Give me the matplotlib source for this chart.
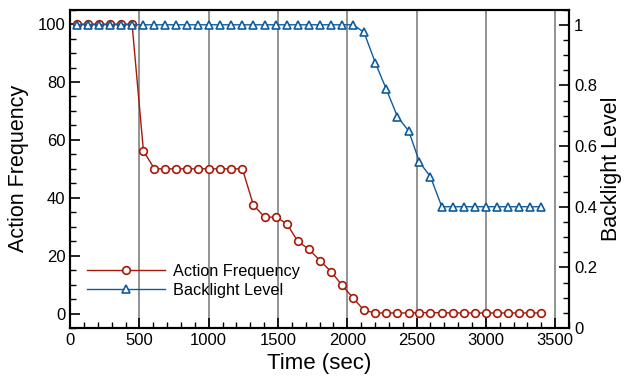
import numpy as np
import matplotlib
matplotlib.use('Agg')
import matplotlib.pyplot as plt
from matplotlib.ticker import MultipleLocator, FuncFormatter

plt.rcParams['font.family'] = ['Liberation Sans', 'DejaVu Sans']

# sample times (sec)
times = [48, 128, 209, 289, 368, 447, 529, 608, 688, 767, 847, 926, 1005, 1085,
         1164, 1243, 1323, 1405, 1485, 1563, 1643, 1722, 1804, 1885, 1963, 2042,
         2121, 2203, 2282, 2362, 2444, 2521, 2600, 2682, 2761, 2841, 2920, 2999,
         3079, 3160, 3240, 3319, 3398]

action_freq = [100, 100, 100, 100, 100, 100, 56.2, 50, 50, 50, 50, 50, 50, 50,
               50, 50, 37.4, 33.3, 33.3, 31.1, 24.9, 22.3, 18.2, 14.4, 9.7, 5.4,
               1.1, 0.2, 0.2, 0.2, 0.2, 0.3, 0.3, 0.3, 0.2, 0.2, 0.2, 0.2,
               0.2, 0.2, 0.2, 0.2, 0.2]

backlight = [1, 1, 1, 1, 1, 1, 1, 1, 1, 1, 1, 1, 1, 1,
             1, 1, 1, 1, 1, 1, 1, 1, 1, 1, 1, 1,
             0.975, 0.874, 0.787, 0.697, 0.649, 0.547, 0.499, 0.4, 0.4, 0.4, 0.4, 0.4,
             0.4, 0.4, 0.4, 0.4, 0.4]

grid_x = [500, 1000, 1500, 2000, 2500, 3000, 3500]

red = '#A81808'
blue = '#0E5C9E'

fig = plt.figure(figsize=(6.26, 3.85), dpi=100)
ax = fig.add_axes([0.112, 0.148, 0.797, 0.827])
ax2 = ax.twinx()

for gx in grid_x:
    ax.axvline(gx, color='#8a8a8a', lw=1.3, zorder=0)

l1, = ax.plot(times, action_freq, color=red, lw=1.0, marker='o', ms=5.5,
              mfc='white', mec=red, mew=1.2, label='Action Frequency')
l2, = ax2.plot(times, backlight, color=blue, lw=1.0, marker='^', ms=5.8,
               mfc='white', mec=blue, mew=1.2, label='Backlight Level')

ax.set_xlim(0, 3600)
ax.set_ylim(-5, 105)
ax2.set_ylim(0, 1.05)

ax.xaxis.set_major_locator(MultipleLocator(500))
ax.xaxis.set_minor_locator(MultipleLocator(100))
ax.yaxis.set_major_locator(MultipleLocator(20))
ax.yaxis.set_minor_locator(MultipleLocator(5))
ax2.yaxis.set_major_locator(MultipleLocator(0.2))
ax2.yaxis.set_minor_locator(MultipleLocator(0.05))
ax2.yaxis.set_major_formatter(FuncFormatter(lambda v, p: '%g' % round(v, 2)))

for a in (ax, ax2):
    a.tick_params(which='major', direction='in', length=7, width=1.2, labelsize=12)
    a.tick_params(which='minor', direction='in', length=4, width=1.0)
    for s in a.spines.values():
        s.set_linewidth(1.5)
ax.tick_params(axis='x', which='both', top=False)
ax.tick_params(axis='y', which='both', right=False)
ax2.tick_params(axis='x', which='both', top=False, bottom=False)

ax.set_xlabel('Time (sec)', fontsize=16, labelpad=4)
ax.set_ylabel('Action Frequency', fontsize=15.5, labelpad=6)
ax2.set_ylabel('Backlight Level', fontsize=15.5, labelpad=3)

leg = ax.legend(handles=[l1, l2], loc='lower left', bbox_to_anchor=(0.02, 0.075),
                frameon=False, fontsize=11.7, handlelength=4.8, handletextpad=0.5,
                labelspacing=0.25, borderaxespad=0)

fig.savefig('out.png', dpi=100)
